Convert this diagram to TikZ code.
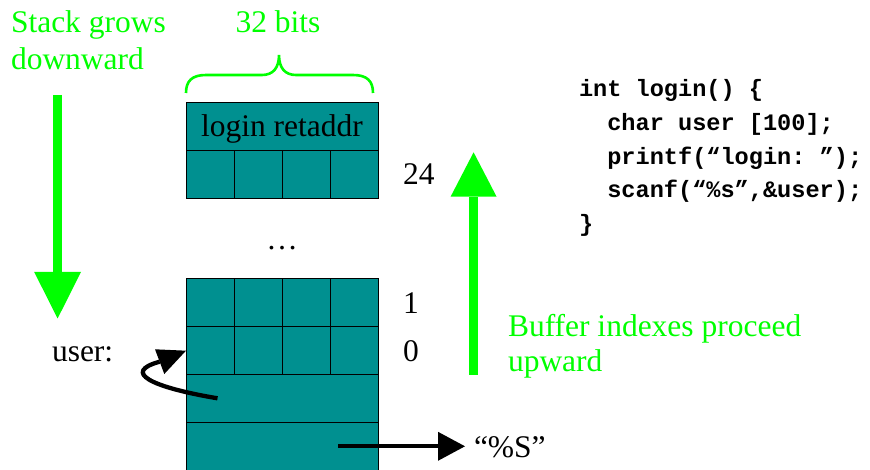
\documentclass[tikz,border=0pt]{standalone}
\usepackage{fontspec}
\setmainfont{Liberation Serif}
\setmonofont{Liberation Mono}
\definecolor{cellfill}{RGB}{0,144,144}
\definecolor{brightgreen}{RGB}{0,255,0}

\begin{document}
\begin{tikzpicture}[x=1pt,y=-1pt,
  cell/.style={draw=black, line width=0.9pt, fill=cellfill, minimum width=48pt,
    minimum height=48.2pt, inner sep=0pt, outer sep=0pt},
  wide/.style={cell, minimum width=192pt},
  lbl/.style={inner sep=0pt, outer sep=0pt, font=\fontsize{31.5}{36}\selectfont, anchor=base west},
  glbl/.style={lbl, text=brightgreen},
  code/.style={inner sep=0pt, outer sep=0pt, anchor=base west,
    font=\fontsize{23.6}{28}\selectfont\ttfamily\bfseries},
  gshaft/.style={draw=brightgreen, line width=9pt},
  ghead/.style={fill=brightgreen},
  bshaft/.style={draw=black, line width=4pt},
  bhead/.style={fill=black},
]
\useasboundingbox (0,0) rectangle (870,470);

% ---- top frame: return address word ----
\node[wide, minimum height=48.4pt] (ret) at (282,126.5) {};
\foreach \i/\x in {1/210,2/258,3/306,4/354}
  \node[cell] (t\i) at (\x,174.8) {};
\node[lbl, anchor=base] (retlbl) at (282,136.8) {login retaddr};

% ---- brace and width label ----
\draw[brightgreen, line width=2.6pt]
  (186,93) .. controls (186,81) and (192,75) .. (206,75) -- (262,75)
  .. controls (273,75) and (279,68) .. (279,55)
  .. controls (279,68) and (285,75) .. (296,75) -- (353,75)
  .. controls (367,75) and (373,81) .. (373,93);
\node[glbl, anchor=base] (bits) at (278,33) {32 bits};

\node[lbl, anchor=base] (dots) at (282,249.5) {…};

% ---- user buffer and the words below it ----
\foreach \i/\x in {1/210,2/258,3/306,4/354} {
  \node[cell] (ra\i) at (\x,302.5) {};
  \node[cell] (rb\i) at (\x,350.7) {};
}
\node[wide] (saved) at (282,398.7) {};
\node[wide] (fmtarg) at (282,446.8) {};

% ---- index labels ----
\node[lbl] (i24) at (403,185) {24};
\node[lbl] (i1) at (403,313) {1};
\node[lbl] (i0) at (403,361.5) {0};
\node[lbl] (userlbl) at (52,361.5) {user:};

% ---- stack direction arrow ----
\node[glbl] (stackA) at (11,33) {Stack grows};
\node[glbl] (stackB) at (11,70) {downward};
\coordinate (sgTop) at (57.6,95);
\coordinate (sgBase) at (57.6,272);
\coordinate (sgTip) at (57.6,318.5);
\draw[gshaft] (sgTop) -- (sgBase);
\fill[ghead] (34.2,272) -- (81,272) -- (sgTip) -- cycle;

% ---- buffer index arrow ----
\coordinate (buBot) at (473.6,374.5);
\coordinate (buBase) at (473.6,196.7);
\coordinate (buTip) at (473.6,152.3);
\draw[gshaft, line width=8.5pt] (buBot) -- (buBase);
\fill[ghead] (450.6,196.7) -- (496.6,196.7) -- (buTip) -- cycle;
\node[glbl] (bufA) at (508,337) {Buffer indexes proceed};
\node[glbl] (bufB) at (508,371.5) {upward};

% ---- pointer from saved word back to user ----
\coordinate (ptrStart) at (217.5,398.3);
\coordinate (ptrBase) at (159.7,361.7);
\draw[bshaft, line width=4.3pt] (ptrStart) .. controls (150,387) and (122,372) .. (ptrBase);
\fill[bhead] (155,349.3) -- (rb1.west) -- (164.3,374) -- cycle;

% ---- pointer to the format string ----
\coordinate (fmtStart) at (338,446.3);
\coordinate (fmtBase) at (438,446.3);
\node[lbl] (fmt) at (474,457) {“\%S”};
\draw[bshaft] (fmtStart) -- (fmtBase);
\fill[bhead] (438,431.8) -- (465,446.3) -- (438,460.8) -- cycle;

% ---- source code ----
\node[code] (c1) at (579,97) {int login() \{};
\node[code] (c2) at (607.3,130.7) {char user [100];};
\node[code] (c3) at (607.3,164.3) {printf(“login: ”);};
\node[code] (c4) at (607.3,198) {scanf(“\%s”,\&user);};
\node[code] (c5) at (579,231.7) {\}};
\end{tikzpicture}
\end{document}
